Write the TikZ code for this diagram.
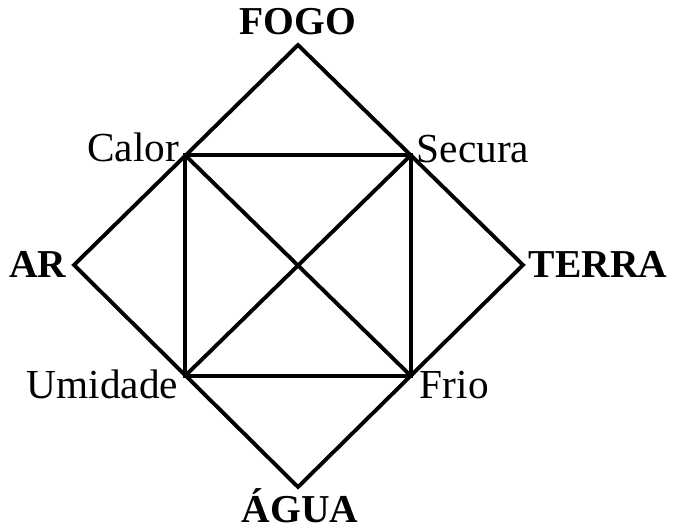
\documentclass[tikz,border=0pt]{standalone}
\usepackage{fontspec}
\setmainfont{Liberation Serif}

\begin{document}
\begin{tikzpicture}[line width=2.2pt,
    element/.style={font=\fontsize{22.5}{27}\selectfont\bfseries,inner sep=0pt},
    quality/.style={font=\fontsize{23.5}{28}\selectfont,inner sep=0pt}]
  \useasboundingbox (-5.96,-5.3) rectangle (7.5,5.3);
  % The four elements sit on the corners of the outer diamond.
  \coordinate (fogo) at (0,4.4);
  \coordinate (terra) at (4.5,0);
  \coordinate (agua) at (0,-4.44);
  \coordinate (ar) at (-4.48,0);
  % The four qualities sit on the corners of the inner square.
  \coordinate (calor) at (-2.26,2.2);
  \coordinate (secura) at (2.26,2.2);
  \coordinate (frio) at (2.26,-2.22);
  \coordinate (umidade) at (-2.26,-2.22);
  \draw (fogo) -- (terra) -- (agua) -- (ar) -- cycle;
  \draw (calor) -- (secura) -- (frio) -- (umidade) -- cycle;
  \draw (calor) -- (frio);
  \draw (secura) -- (umidade);
  % Element names.
  \node[element,anchor=base] (fogolabel) at (0,4.6) {FOGO};
  \node[element,anchor=base] (terralabel) at (6.0,-0.26) {TERRA};
  \node[element,anchor=base] (agualabel) at (0.04,-5.14) {ÁGUA};
  \node[element,anchor=base] (arlabel) at (-5.2,-0.26) {AR};
  % Quality names.
  \node[quality,anchor=base east] (calorlabel) at (-2.34,2.06) {Calor};
  \node[quality,anchor=base west] (securalabel) at (2.34,2.04) {Secura};
  \node[quality,anchor=base west] (friolabel) at (2.4,-2.66) {Frio};
  \node[quality,anchor=base east] (umidadelabel) at (-2.36,-2.66) {Umidade};
\end{tikzpicture}
\end{document}
